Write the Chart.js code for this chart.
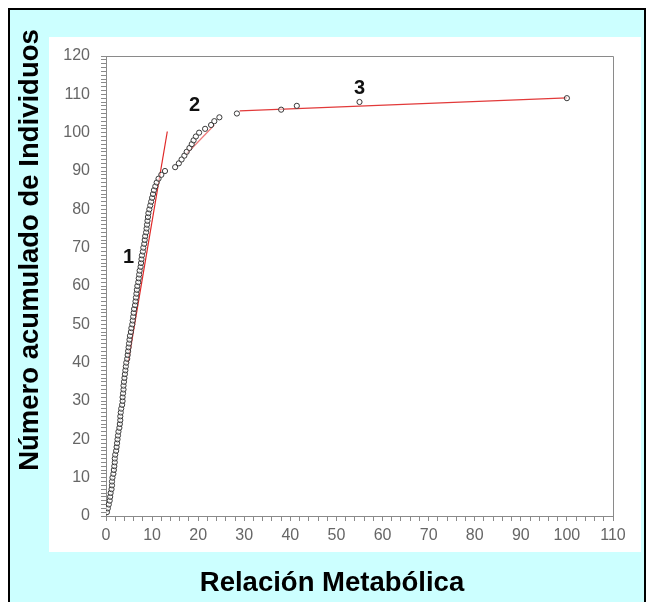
<!DOCTYPE html>
<html>
<head>
<meta charset="utf-8">
<script src="https://cdn.jsdelivr.net/npm/chart.js@4.4.1/dist/chart.umd.min.js"></script>
<style>
  html, body { margin: 0; padding: 0; background: #ffffff; }
  #marco {
    position: absolute; left: 8px; top: 8px; width: 638px; height: 620px;
    border: 2px solid #000; background: #ccffff; box-sizing: border-box;
  }
  #lienzo { position: absolute; left: 0; top: 0; width: 652px; height: 602px; }
</style>
</head>
<body>
<div id="marco"></div>
<div id="lienzo"><canvas id="grafico" width="652" height="602"></canvas></div>
<script>
// Relación metabólica de cada individuo, ordenada de menor a mayor
const relacionMetabolica = [
  0.2, 0.4, 0.6, 0.8, 0.9, 1.0, 1.2, 1.3, 1.3, 1.4,
  1.6, 1.7, 1.8, 1.9, 1.9, 2.0, 2.2, 2.3, 2.4, 2.5,
  2.6, 2.7, 2.9, 3.0, 3.1, 3.1, 3.2, 3.3, 3.5, 3.6,
  3.6, 3.7, 3.8, 3.8, 3.9, 4.0, 4.1, 4.2, 4.3, 4.4,
  4.6, 4.7, 4.8, 4.9, 5.0, 5.1, 5.2, 5.4, 5.5, 5.7,
  5.8, 5.9, 6.0, 6.1, 6.3, 6.4, 6.5, 6.6, 6.7, 6.8,
  7.0, 7.1, 7.2, 7.3, 7.5, 7.6, 7.7, 7.8, 8.0, 8.1,
  8.3, 8.4, 8.5, 8.7, 8.8, 8.9, 9.0, 9.1, 9.2, 9.4,
  9.6, 9.8, 10.0, 10.2, 10.4, 10.7, 11.0, 11.4, 12.0, 12.8,
  15.0, 15.8, 16.4, 17.0, 17.5, 18.1, 18.6, 19.0, 19.5, 20.2,
  21.5, 22.8, 23.5, 24.6, 28.4, 38.0, 41.4, 55.0, 100.0
];
// Número acumulado de individuos
const acumulado = [
  1, 2, 3, 4, 5, 6, 7, 8, 9, 10,
  11, 12, 13, 14, 15, 16, 17, 18, 19, 20,
  21, 22, 23, 24, 25, 26, 27, 28, 29, 30,
  31, 32, 33, 34, 35, 36, 37, 38, 39, 40,
  41, 42, 43, 44, 45, 46, 47, 48, 49, 50,
  51, 52, 53, 54, 55, 56, 57, 58, 59, 60,
  61, 62, 63, 64, 65, 66, 67, 68, 69, 70,
  71, 72, 73, 74, 75, 76, 77, 78, 79, 80,
  81, 82, 83, 84, 85, 86, 87, 88, 89, 90,
  91, 92, 93, 94, 95, 96, 97, 98, 99, 100,
  101, 102, 103, 104, 105, 106, 107, 108, 109
];

// Rectas de ajuste de cada tramo (extremos)
const tramo1X = [4.8, 13.3];
const tramo1Y = [40, 100.3];
const tramo2X = [17.5, 23.5];
const tramo2Y = [94.5, 102];
const tramo3X = [29, 100];
const tramo3Y = [105.7, 109.1];

// Números que identifican cada tramo
const etiquetasTramo = ['1', '2', '3'];
const etiquetaX = [4.9, 19.2, 55];
const etiquetaY = [67.4, 107.0, 111.5];

// Marcas de los ejes
const ejeXMin = 0, ejeXMax = 110, ejeXPaso = 2, ejeXEtiqueta = 10;
const ejeYMin = 0, ejeYMax = 120, ejeYPaso = 1, ejeYEtiqueta = 10;

const tituloX = 'Relación Metabólica';
const tituloY = 'Número acumulado de Individuos';

const puntos = relacionMetabolica.map((x, i) => ({ x: x, y: acumulado[i] }));
const recta = (xs, ys) => xs.map((x, i) => ({ x: x, y: ys[i] }));

// Panel blanco detrás del área de trazado
const panelBlanco = {
  id: 'panelBlanco',
  beforeDraw(chart) {
    const { ctx, chartArea: a } = chart;
    ctx.save();
    ctx.fillStyle = '#ffffff';
    ctx.fillRect(a.left - 57, a.top - 19, (a.right - a.left) + 85, (a.bottom - a.top) + 55);
    ctx.restore();
  }
};

// Marco superior y derecho del área de trazado, números de tramo y títulos de ejes
const adornos = {
  id: 'adornos',
  afterDraw(chart) {
    const { ctx, chartArea: a, scales } = chart;
    ctx.save();
    ctx.strokeStyle = '#8a8a8a';
    ctx.lineWidth = 1;
    ctx.beginPath();
    ctx.moveTo(a.left, a.top + 0.5);
    ctx.lineTo(a.right + 0.5, a.top + 0.5);
    ctx.lineTo(a.right + 0.5, a.bottom);
    ctx.stroke();

    ctx.fillStyle = '#111';
    ctx.font = 'bold 20px "Liberation Sans", Arial, sans-serif';
    ctx.textAlign = 'center';
    ctx.textBaseline = 'middle';
    etiquetasTramo.forEach((t, i) => {
      ctx.fillText(t, scales.x.getPixelForValue(etiquetaX[i]), scales.y.getPixelForValue(etiquetaY[i]));
    });

    ctx.fillStyle = '#000';
    ctx.font = 'bold 27.5px "Liberation Sans", Arial, sans-serif';
    ctx.fillText(tituloX, a.left + 226, a.bottom + 67);
    ctx.translate(a.left - 76, a.top + 194);
    ctx.rotate(-Math.PI / 2);
    ctx.fillText(tituloY, 0, 0);
    ctx.restore();
  }
};

const fuenteTicks = { family: '"Liberation Sans", Arial, sans-serif', size: 16 };

new Chart(document.getElementById('grafico'), {
  type: 'scatter',
  data: {
    datasets: [
      {
        label: 'Individuos',
        data: puntos,
        order: 0,
        pointStyle: 'circle',
        pointRadius: 2.6,
        borderWidth: 1,
        borderColor: '#3a3a3a',
        backgroundColor: 'rgba(255,255,255,0.5)'
      },
      {
        label: 'Tramo 1', data: recta(tramo1X, tramo1Y), order: 1, showLine: true,
        pointRadius: 0, borderColor: '#e02828', borderWidth: 1.2
      },
      {
        label: 'Tramo 2', data: recta(tramo2X, tramo2Y), order: 1, showLine: true,
        pointRadius: 0, borderColor: '#ee7a7a', borderWidth: 1.2
      },
      {
        label: 'Tramo 3', data: recta(tramo3X, tramo3Y), order: 1, showLine: true,
        pointRadius: 0, borderColor: '#e23a3a', borderWidth: 1.2
      }
    ]
  },
  options: {
    responsive: false,
    animation: false,
    devicePixelRatio: 1,
    layout: { padding: { left: 0, top: 56, right: 39, bottom: 0 } },
    plugins: { legend: { display: false }, tooltip: { enabled: false } },
    scales: {
      x: {
        type: 'linear', min: ejeXMin, max: ejeXMax,
        afterFit(scale) { scale.height = 86; },
        border: { display: true, color: '#8a8a8a', width: 1 },
        grid: { drawOnChartArea: false, drawTicks: true, tickLength: 5, color: '#8a8a8a' },
        ticks: {
          stepSize: ejeXPaso, autoSkip: false, maxRotation: 0, padding: 5,
          color: '#666', font: fuenteTicks,
          callback: v => (v % ejeXEtiqueta === 0 ? v : '')
        }
      },
      y: {
        type: 'linear', min: ejeYMin, max: ejeYMax,
        afterFit(scale) { scale.width = 106; },
        border: { display: true, color: '#8a8a8a', width: 1 },
        grid: { drawOnChartArea: false, drawTicks: true, tickLength: 5, color: '#8a8a8a' },
        ticks: {
          stepSize: ejeYPaso, autoSkip: false, padding: 11,
          color: '#666', font: fuenteTicks,
          callback: v => (v % ejeYEtiqueta === 0 ? v : '')
        }
      }
    }
  },
  plugins: [panelBlanco, adornos]
});
</script>
</body>
</html>
